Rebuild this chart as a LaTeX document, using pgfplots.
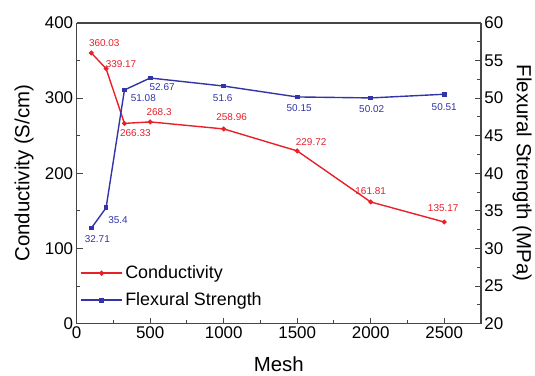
\documentclass[border=0pt]{standalone}
\usepackage{pgfplots}
\pgfplotsset{compat=1.18}
\usepackage{fontspec}
\setmainfont{Liberation Sans}
\definecolor{cred}{RGB}{232,32,42}
\definecolor{cblue}{RGB}{50,52,168}
\definecolor{cframe}{RGB}{70,70,70}
\pgfplotsset{
  common/.style={
    scale only axis, width=406pt, height=302pt,
    xmin=0, xmax=2750,
    tick align=inside, major tick length=6pt, minor tick length=3.5pt,
    every tick/.style={cframe, line width=1pt},
    axis line style={cframe, line width=1.3pt},
    /pgf/number format/assume math mode=true,
    /pgf/number format/1000 sep={},
    tick label style={font=\fontsize{17}{19}\selectfont},
    label style={font=\fontsize{20.5}{22}\selectfont},
    clip=false,
  },
  lbl/.style={
    nodes near coords,
    point meta=explicit symbolic,
    visualization depends on={\thisrow{dx}\as\dx},
    visualization depends on={\thisrow{dy}\as\dy},
    every node near coord/.append style={anchor=center, xshift=\dx pt, yshift=\dy pt, font=\fontsize{10}{11}\selectfont, inner sep=0pt},
  },
}
\begin{document}
\begin{tikzpicture}
\begin{axis}[common, name=ax,
  ymin=0, ymax=400,
  axis y line*=left,
  xtick pos=bottom,
  xtick={0,500,...,2500}, minor x tick num=1,
  ytick={0,100,...,400}, minor y tick num=1,
  xlabel={Mesh}, ylabel={Conductivity (S/cm)},
  xlabel style={at={(axis description cs:0.5,-0.135)}, anchor=center},
  ylabel style={at={(axis description cs:-0.13,0.5)}, anchor=center},
]
\addplot[cred, line width=1.4pt, mark=*, mark size=1.7pt, lbl, every node near coord/.append style={text=cred}]
  table[x=x, y=y, meta=lab] {
x y dx dy lab
100 360.03 13 10 360.03
200 339.17 15 5 339.17
325 266.33 11 -10 266.33
500 268.3 9 10 268.3
1000 258.96 8 12 258.96
1500 229.72 14 9 229.72
2000 161.81 0 11 161.81
2500 135.17 -1 14 135.17
};
\end{axis}
\begin{axis}[common,
  ymin=20, ymax=60,
  axis y line*=right, axis x line=none,
  ytick={20,25,...,60}, minor y tick num=1,
  ylabel={Flexural Strength (MPa)},
  ylabel style={at={(axis description cs:1.102,0.5)}, anchor=center, rotate=180},
  legend style={at={(axis description cs:0.0,0.04)}, anchor=south west, draw=none, fill=none,
    font=\fontsize{18}{20}\selectfont, row sep=8.5pt},
  legend cell align=left,
  legend image code/.code={\draw[#1, line width=1.6pt, mark repeat=2, mark phase=2] plot coordinates {(0pt,0pt) (21pt,0pt) (42pt,0pt)};},
]
\addlegendimage{cred, mark=*, mark size=1.7pt}
\addlegendentry{Conductivity}
\addlegendimage{cblue, mark=square*, mark size=1.7pt}
\addlegendentry{Flexural Strength}
\addplot[cblue, line width=1.4pt, mark=square*, mark size=1.7pt, lbl, every node near coord/.append style={text=cblue}, forget plot]
  table[x=x, y=y, meta=lab] {
x y dx dy lab
100 32.71 6 -11 32.71
200 35.4 12 -12 35.4
325 51.08 19 -8 51.08
500 52.67 12 -9 52.67
1000 51.6 -1 -12 51.6
1500 50.15 2 -11 50.15
2000 50.02 1 -11 50.02
2500 50.51 0 -13 50.51
};
\end{axis}
\useasboundingbox ([xshift=-77pt,yshift=-44pt]ax.south west) rectangle ([xshift=52pt,yshift=23pt]ax.north east);
\end{tikzpicture}
\end{document}
